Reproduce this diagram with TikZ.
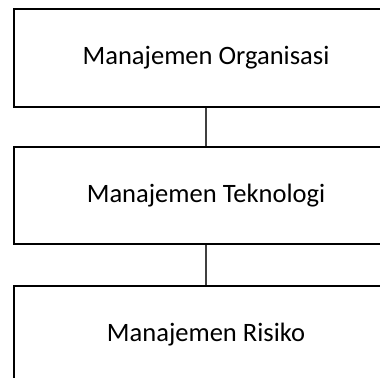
\documentclass[tikz,border=0pt]{standalone}
\usepackage{fontspec}
\setmainfont{Carlito}
\usetikzlibrary{positioning}

\begin{document}
\begin{tikzpicture}[
        box/.style={draw, rectangle, minimum width=7.68cm, minimum height=1.95cm, align=center, line width=1.1pt, font=\fontsize{15.1}{18}\selectfont},
        link/.style={draw=black!75, line width=0.6pt}
    ]
    \clip (0,0) rectangle (7.6,-7.54);

    % Levels
    \node[box] (org) at (4.12,-1.16) {Manajemen Organisasi};
    \node[box] (tek) [below=0.76cm of org] {Manajemen Teknologi};
    \node[box] (ris) [below=0.8cm of tek] {Manajemen Risiko};

    % Links
    \draw[link] (org) -- (tek);
    \draw[link] (tek) -- (ris);

\end{tikzpicture}
\end{document}
